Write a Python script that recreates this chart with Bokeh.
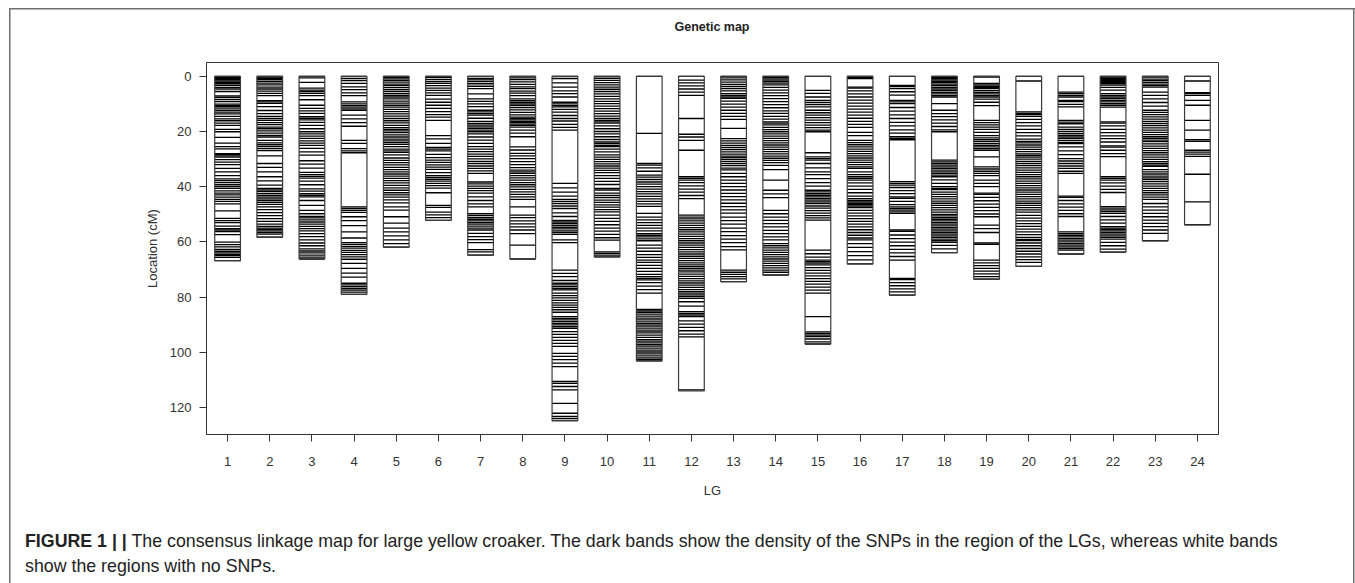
from bokeh.plotting import figure
from bokeh.models import Range1d, FixedTicker, ColumnDataSource, Div
from bokeh.layouts import column
from bokeh.embed import file_html
from bokeh.resources import INLINE

# ---------------- data ----------------
lg_ids = list(range(1, 25))
lg_lengths = [66.8, 58.3, 66.2, 79.0, 61.9, 52.2, 64.8, 66.2, 124.8, 65.4, 103.1, 114.0,
              74.4, 72.0, 97.0, 68.0, 79.3, 63.9, 73.5, 68.9, 64.4, 63.7, 59.6, 53.8]
y_ticks = [0, 20, 40, 60, 80, 100, 120]

lg01 = [0, 0.4, 0.8, 1.2, 1.7, 2.2, 2.7, 3.3, 4.0, 4.6, 5.5, 7.1, 7.6, 8.4, 9.2, 10.1, 10.6, 11.0, 11.5,
        12.3, 13.0, 13.6, 14.5, 15.4, 16.1, 17.0, 17.8, 19.2, 20.1, 22.1, 24.2, 25.5, 26.3, 28.0, 28.4,
        28.8, 29.3, 30.2, 31.1, 32.0, 33.4, 34.6, 36.0, 37.2, 37.8, 38.5, 39.3, 40.0, 40.6, 41.5, 42.3,
        43.0, 43.8, 44.6, 45.3, 46.2, 48.8, 51.5, 52.3, 53.0, 54.3, 55.2, 55.7, 56.3, 57.4, 60.1, 61.0,
        61.8, 62.7, 63.4, 64.0, 64.5, 65.0, 65.6, 66.8]
lg02 = [0, 0.3, 0.7, 1.1, 1.8, 2.5, 3.1, 3.9, 4.6, 5.4, 6.2, 7.0, 8.8, 9.3, 9.8, 11.0, 12.4, 13.5, 14.5,
        15.3, 16.0, 16.8, 17.5, 18.4, 19.0, 19.8, 20.6, 21.4, 22.0, 23.2, 24.1, 24.8, 25.5, 26.2, 26.9,
        28.8, 31.6, 33.0, 34.6, 36.4, 37.9, 39.4, 40.6, 41.2, 41.8, 42.5, 43.2, 43.8, 44.4, 45.0, 45.7,
        46.4, 47.3, 48.3, 49.4, 50.5, 51.6, 52.6, 53.6, 54.4, 55.0, 55.5, 56.0, 56.6, 57.2, 58.3]
lg03 = [0, 0.6, 2.2, 4.3, 5.0, 5.5, 6.2, 7.0, 8.5, 10.5, 11.6, 12.5, 13.4, 14.6, 15.2, 15.8, 16.7, 17.8,
        19.0, 20.1, 20.9, 21.7, 22.5, 23.4, 24.2, 25.0, 26.1, 27.4, 28.6, 30.6, 31.8, 33.3, 34.8, 35.6,
        36.3, 36.9, 38.0, 39.3, 40.8, 41.6, 42.5, 43.1, 43.7, 45.0, 46.8, 48.6, 49.8, 50.8, 51.3, 52.0,
        52.8, 53.6, 54.4, 55.2, 56.0, 57.0, 58.1, 59.3, 60.4, 61.4, 62.5, 63.3, 64.0, 64.8, 65.5, 66.2]
lg04 = [0, 0.8, 1.6, 2.6, 3.8, 4.8, 6.0, 7.0, 9.3, 10.0, 10.6, 11.2, 11.8, 12.3, 14.1, 15.4, 16.8, 18.1,
        23.2, 24.3, 26.2, 27.0, 27.7, 47.3, 47.9, 48.6, 49.3, 50.9, 52.3, 54.1, 56.4, 58.6, 60.3, 60.9,
        61.6, 62.3, 63.1, 63.8, 64.6, 65.4, 66.3, 67.8, 69.6, 71.3, 72.8, 75.0, 75.6, 76.2, 76.9, 77.5,
        78.2, 79.0]
lg05 = [0, 0.4, 0.9, 1.5, 2.1, 2.8, 3.4, 4.1, 4.8, 5.5, 6.3, 6.9, 7.5, 8.2, 9.0, 9.7, 10.5, 11.2, 12.0,
        12.8, 13.6, 14.4, 15.3, 16.1, 16.9, 17.8, 18.6, 19.2, 19.8, 20.4, 21.2, 22.0, 22.8, 23.4, 24.0,
        24.7, 25.5, 26.4, 27.0, 27.6, 28.5, 29.6, 30.5, 31.3, 32.1, 33.0, 33.8, 34.6, 35.4, 36.2, 37.0,
        37.8, 38.6, 39.5, 40.4, 41.3, 42.2, 43.0, 43.8, 44.8, 45.9, 47.3, 48.5, 50.9, 53.2, 55.0, 56.4,
        57.8, 59.3, 60.6, 61.9]
lg06 = [0, 0.5, 1.2, 1.9, 2.6, 3.4, 4.3, 5.1, 6.0, 6.9, 8.3, 9.4, 10.5, 11.6, 12.8, 13.9, 14.8, 16.0,
        21.5, 22.7, 24.3, 25.8, 26.4, 27.0, 28.3, 29.5, 30.4, 31.2, 32.1, 32.9, 33.7, 34.9, 36.0, 36.6,
        37.3, 38.0, 38.8, 39.6, 40.5, 42.2, 46.8, 47.5, 49.2, 50.2, 51.2, 52.2]
lg07 = [0, 0.8, 1.3, 1.9, 2.7, 3.6, 4.5, 6.4, 8.2, 9.1, 10.0, 11.0, 12.3, 12.9, 13.5, 14.1, 15.2, 16.3,
        17.1, 17.7, 18.3, 18.9, 19.5, 20.1, 20.9, 22.0, 23.1, 24.3, 25.5, 26.4, 27.3, 28.2, 29.0, 29.9,
        30.8, 31.6, 32.5, 33.4, 34.3, 35.2, 38.3, 39.0, 39.8, 40.6, 41.4, 42.3, 43.7, 45.0, 46.2, 47.3,
        49.8, 50.5, 51.2, 51.8, 52.4, 53.0, 53.6, 54.3, 55.0, 55.7, 56.9, 58.1, 59.2, 60.3, 62.8, 63.6, 64.8]
lg08 = [0, 0.6, 1.2, 2.0, 2.9, 3.8, 4.5, 5.4, 6.1, 7.0, 8.2, 8.8, 9.4, 10.0, 10.5, 11.3, 12.2, 13.1,
        14.0, 14.8, 15.3, 15.8, 16.3, 16.8, 17.3, 17.8, 18.4, 19.5, 20.6, 21.9, 25.6, 26.7, 27.9, 28.8,
        29.8, 30.9, 32.0, 33.1, 34.0, 34.6, 35.2, 36.0, 36.8, 37.6, 38.5, 39.3, 40.1, 41.0, 41.9, 42.8,
        43.7, 44.6, 47.3, 50.3, 51.2, 52.4, 53.5, 54.6, 55.7, 57.0, 61.2, 66.2]
lg09 = [0, 0.8, 2.4, 3.9, 5.3, 6.3, 7.5, 9.4, 10.0, 10.6, 11.1, 12.0, 13.0, 14.2, 15.3, 16.2, 17.4,
        18.5, 19.5, 38.8, 40.4, 42.0, 43.4, 44.6, 45.3, 46.1, 47.0, 47.9, 49.5, 50.8, 52.2, 52.8, 53.4,
        54.0, 54.7, 55.3, 56.0, 56.6, 57.3, 59.3, 60.3, 70.2, 71.4, 72.6, 74.0, 75.0, 75.6, 76.2, 76.9,
        77.4, 78.6, 79.5, 80.3, 81.2, 82.1, 82.9, 83.7, 84.6, 85.5, 87.1, 87.7, 88.3, 88.9, 89.5, 90.1,
        90.7, 91.3, 92.5, 93.5, 94.6, 95.7, 96.8, 97.9, 100.4, 101.5, 102.7, 103.9, 105.2, 110.6, 111.3,
        112.4, 113.6, 118.5, 122.1, 123.2, 124.0, 124.8]
lg10 = [0, 0.7, 1.5, 2.3, 3.1, 3.9, 4.7, 5.5, 6.4, 7.3, 8.2, 9.1, 9.9, 10.8, 11.7, 12.6, 13.5, 14.4,
        15.3, 16.0, 16.5, 17.0, 18.0, 19.0, 20.0, 20.9, 21.9, 22.9, 23.8, 24.4, 25.0, 25.5, 26.4, 27.4,
        28.5, 29.3, 30.1, 30.9, 31.7, 32.5, 33.3, 34.1, 34.9, 36.0, 37.0, 38.1, 39.2, 40.6, 41.2, 42.3,
        43.2, 44.0, 44.9, 45.7, 46.6, 47.4, 48.3, 49.1, 50.3, 51.5, 52.6, 53.8, 55.0, 56.1, 57.3, 58.5,
        59.4, 63.6, 64.2, 64.8, 65.4]
lg11 = [0, 20.7, 31.6, 32.2, 33.2, 34.4, 35.8, 36.5, 37.4, 38.3, 39.1, 40.0, 40.9, 41.8, 42.6, 43.5,
        44.4, 45.3, 46.2, 47.1, 49.7, 51.0, 52.0, 53.0, 54.0, 55.0, 56.0, 57.0, 57.6, 58.2, 58.9, 59.6,
        61.2, 62.3, 63.4, 64.6, 65.6, 66.6, 67.4, 68.5, 69.6, 70.7, 71.8, 72.6, 73.2, 73.8, 74.8, 76.0,
        77.3, 78.6, 84.5, 85.0, 85.5, 86.2, 86.9, 87.6, 88.3, 89.0, 89.6, 90.2, 90.8, 91.5, 92.3, 93.0,
        93.8, 94.6, 95.4, 96.0, 96.6, 97.2, 97.8, 98.5, 99.2, 99.9, 100.6, 101.3, 102.0, 102.6, 103.1]
lg12 = [0, 1.4, 2.4, 3.5, 4.6, 5.7, 6.9, 15.3, 21.0, 22.0, 23.2, 26.8, 36.4, 37.0, 37.6, 38.5, 39.7,
        40.9, 42.0, 43.2, 44.3, 50.3, 51.0, 51.7, 52.4, 53.2, 54.0, 54.8, 55.6, 56.4, 57.2, 58.0, 58.8,
        59.6, 60.4, 61.2, 62.0, 62.8, 63.6, 64.4, 65.2, 66.0, 66.8, 67.6, 68.3, 69.0, 69.6, 70.2, 70.9,
        71.7, 72.5, 73.3, 74.1, 74.9, 75.7, 76.5, 77.3, 78.0, 78.6, 79.2, 79.8, 80.5, 81.7, 83.3, 85.3,
        85.9, 86.5, 87.1, 88.6, 89.8, 91.0, 92.2, 93.4, 94.4, 113.6]
lg13 = [0, 0.6, 1.3, 2.1, 2.9, 3.7, 4.5, 5.3, 6.3, 6.9, 7.5, 8.0, 9.0, 10.1, 11.2, 12.3, 13.4, 14.5,
        15.6, 18.9, 22.6, 23.4, 24.2, 25.0, 25.8, 26.6, 27.4, 28.2, 28.9, 29.5, 30.1, 30.8, 31.6, 32.4,
        33.3, 33.9, 35.2, 36.4, 37.6, 38.8, 40.0, 41.2, 42.4, 43.6, 44.8, 46.0, 47.2, 48.4, 49.6, 51.0,
        52.3, 53.6, 55.0, 56.3, 57.7, 59.0, 60.3, 61.7, 62.9, 70.2, 71.0, 71.8, 72.6, 73.4, 74.4]
lg14 = [0, 0.4, 0.9, 1.4, 1.9, 2.5, 3.1, 4.0, 5.0, 6.0, 7.0, 8.1, 9.2, 10.3, 11.4, 12.5, 13.4, 14.5,
        15.5, 16.5, 17.0, 17.6, 18.5, 19.3, 20.1, 20.9, 21.7, 22.5, 23.3, 24.1, 24.9, 25.7, 26.5, 27.3,
        28.1, 28.9, 29.7, 30.5, 31.3, 32.3, 33.8, 37.6, 41.3, 42.6, 44.0, 48.6, 49.8, 51.0, 52.2, 53.4,
        54.6, 55.8, 57.0, 58.2, 59.3, 60.6, 61.4, 62.2, 63.0, 63.8, 64.6, 65.4, 66.2, 67.0, 67.8, 68.6,
        69.4, 70.2, 71.0, 72.0]
lg15 = [0, 5.1, 6.2, 7.5, 8.7, 9.5, 10.3, 11.1, 12.3, 13.2, 14.1, 15.0, 15.9, 16.8, 17.7, 18.6, 19.5,
        20.1, 27.7, 29.2, 29.8, 30.4, 31.6, 33.2, 34.6, 35.6, 37.1, 38.5, 39.8, 41.3, 41.9, 42.5, 43.1,
        43.7, 44.3, 44.9, 45.5, 46.1, 47.0, 47.8, 48.7, 49.6, 50.5, 51.3, 52.1, 63.0, 64.3, 65.5, 66.6,
        67.2, 67.7, 68.3, 69.3, 70.3, 71.3, 72.3, 73.3, 74.3, 75.3, 76.4, 77.5, 78.6, 87.1, 92.6, 93.2,
        93.8, 94.3, 95.2, 96.2, 97.0]
lg16 = [0, 0.4, 0.8, 3.9, 4.3, 5.3, 6.4, 7.5, 8.6, 9.7, 10.8, 11.9, 13.0, 14.1, 15.2, 16.3, 17.4, 18.5,
        20.3, 21.5, 23.2, 24.0, 24.8, 25.6, 26.4, 27.2, 28.0, 28.8, 29.6, 30.4, 31.2, 32.0, 32.8, 33.4,
        34.6, 35.6, 36.4, 37.0, 37.6, 38.6, 39.8, 41.0, 42.2, 43.4, 44.3, 45.0, 45.5, 46.0, 46.5, 47.0,
        47.6, 48.6, 49.6, 50.6, 51.6, 52.6, 53.6, 54.6, 55.6, 56.6, 57.6, 58.6, 59.3, 60.6, 62.0, 63.5,
        65.0, 66.5, 68.0]
lg17 = [0, 3.3, 3.7, 4.5, 5.6, 6.8, 8.7, 9.3, 9.9, 11.3, 12.6, 14.0, 15.3, 16.7, 18.0, 19.4, 20.6, 21.9,
        22.5, 23.0, 38.2, 38.8, 39.4, 40.3, 41.4, 42.5, 43.7, 44.2, 45.3, 46.5, 47.3, 47.9, 48.5, 49.1,
        49.7, 55.7, 56.2, 57.5, 58.8, 60.1, 61.4, 62.7, 64.0, 65.3, 66.6, 73.2, 73.7, 74.8, 75.9, 77.0,
        78.1, 79.3]
lg18 = [0, 0.4, 0.8, 1.3, 1.8, 2.3, 2.8, 3.4, 4.0, 4.6, 5.2, 5.8, 6.4, 7.0, 7.5, 9.9, 12.3, 13.5, 14.6,
        15.8, 17.0, 18.2, 19.4, 20.1, 30.4, 31.0, 31.6, 32.2, 32.8, 33.4, 34.0, 34.6, 35.2, 35.8, 36.4,
        37.5, 38.8, 40.0, 40.6, 41.1, 42.0, 42.8, 43.6, 44.4, 45.2, 46.0, 46.8, 47.6, 48.4, 49.2, 50.0,
        50.6, 51.2, 51.8, 52.4, 53.0, 53.6, 54.2, 54.8, 55.4, 56.0, 56.6, 57.2, 57.8, 58.4, 59.0, 59.6,
        60.2, 61.3, 62.5, 63.9]
lg19 = [0, 0.3, 2.6, 3.1, 3.6, 4.1, 4.5, 5.2, 5.8, 6.4, 7.0, 7.5, 8.3, 9.4, 10.6, 16.0, 16.8, 17.6,
        18.4, 19.2, 20.3, 21.5, 22.3, 23.0, 23.7, 24.4, 25.0, 25.6, 26.2, 26.8, 29.2, 32.8, 33.6, 34.4,
        35.2, 36.0, 37.6, 38.8, 40.0, 42.3, 42.8, 43.9, 45.1, 46.3, 47.5, 48.7, 49.9, 50.9, 53.9, 55.2,
        56.6, 60.4, 60.9, 66.6, 67.6, 68.6, 69.6, 70.6, 71.6, 72.6, 73.5]
lg20 = [0, 1.7, 12.9, 13.4, 13.9, 14.5, 15.6, 16.8, 18.0, 19.2, 20.4, 21.6, 22.8, 23.6, 24.1, 24.9,
        25.7, 26.5, 27.3, 28.1, 28.7, 29.3, 30.0, 30.8, 31.6, 32.4, 33.2, 34.0, 34.8, 35.6, 36.4, 37.2,
        38.0, 38.8, 39.6, 40.4, 41.2, 42.0, 42.8, 43.6, 44.4, 45.2, 46.0, 46.8, 47.6, 48.4, 49.2, 50.4,
        51.4, 52.4, 53.4, 54.4, 55.4, 56.4, 57.4, 58.4, 59.1, 59.5, 60.4, 61.4, 62.4, 63.4, 64.4, 65.4,
        66.4, 67.4, 68.9]
lg21 = [0, 5.7, 6.3, 6.9, 7.5, 8.7, 9.2, 10.2, 11.1, 16.0, 16.6, 17.2, 18.4, 19.2, 20.0, 20.8, 21.4,
        22.0, 22.6, 23.3, 24.0, 24.4, 25.6, 27.0, 28.4, 29.8, 30.7, 31.6, 32.5, 33.4, 34.4, 35.2, 43.4,
        43.9, 45.0, 46.2, 47.4, 48.6, 49.8, 50.8, 56.4, 57.0, 57.6, 58.2, 58.8, 59.4, 60.0, 60.6, 61.2,
        61.8, 62.4, 63.0, 64.4]
lg22 = [0, 0.3, 0.7, 1.1, 1.5, 1.9, 2.3, 2.7, 3.2, 4.0, 5.0, 6.3, 6.9, 7.5, 8.1, 8.7, 9.3, 9.9, 10.5,
        11.2, 16.5, 17.0, 18.0, 19.2, 20.4, 21.6, 22.6, 23.8, 25.2, 25.7, 26.8, 28.0, 29.1, 36.4, 37.0,
        37.6, 38.6, 39.8, 41.0, 42.1, 47.2, 47.8, 48.4, 49.0, 49.7, 50.8, 52.0, 53.2, 54.5, 55.0, 55.5,
        56.0, 56.6, 57.2, 57.8, 58.4, 59.0, 60.2, 61.4, 62.6, 63.7]
lg23 = [0, 0.3, 1.0, 1.6, 2.2, 2.8, 3.4, 3.9, 5.7, 6.9, 8.2, 9.5, 10.8, 12.3, 13.1, 13.9, 14.7, 15.5,
        16.3, 17.1, 17.9, 18.7, 19.5, 20.3, 21.1, 21.9, 22.5, 23.1, 23.7, 24.5, 25.3, 26.1, 26.9, 27.7,
        28.5, 29.3, 30.1, 30.9, 31.6, 32.2, 32.6, 33.8, 34.6, 35.4, 36.2, 36.8, 37.4, 38.2, 39.0, 39.8,
        40.6, 41.4, 42.2, 43.0, 43.8, 44.6, 46.1, 47.3, 48.5, 49.7, 50.9, 52.1, 53.3, 54.5, 55.7, 56.9,
        59.6]
lg24 = [0, 1.7, 5.9, 6.3, 6.9, 8.7, 10.5, 16.0, 19.5, 23.0, 23.6, 26.8, 27.5, 28.2, 29.0, 35.5, 45.5,
        53.8]

markers = [lg01, lg02, lg03, lg04, lg05, lg06, lg07, lg08, lg09, lg10, lg11, lg12,
           lg13, lg14, lg15, lg16, lg17, lg18, lg19, lg20, lg21, lg22, lg23, lg24]

title_text = "Genetic map"
caption_bold = "FIGURE 1 | |"
caption_line1 = ("The consensus linkage map for large yellow croaker. The dark bands show the density "
                 "of the SNPs in the region of the LGs, whereas white bands")
caption_line2 = "show the regions with no SNPs."

# ---------------- sources ----------------
half = 0.305
bars = ColumnDataSource(dict(
    left=[i - half for i in lg_ids], right=[i + half for i in lg_ids],
    top=[0.0] * len(lg_ids), bottom=lg_lengths))

sx0, sx1, sy = [], [], []
for i, pos in zip(lg_ids, markers):
    for v in pos:
        sx0.append(i - half)
        sx1.append(i + half)
        sy.append(v)
segs = ColumnDataSource(dict(x0=sx0, x1=sx1, y=sy))

FONT = "Liberation Sans"
TITLE_H = 40

p = figure(width=1355, height=520 - TITLE_H, output_backend="svg", toolbar_location=None,
           x_range=Range1d(0.5, 24.5), y_range=Range1d(129.8, -5.0),
           min_border_left=206, min_border_right=137, min_border_top=62 - TITLE_H,
           min_border_bottom=86, x_axis_label="LG", y_axis_label="Location (cM)",
           title=None, margin=(0, 0, 0, 0))
p.background_fill_color = "white"
p.border_fill_color = None
p.grid.visible = False
p.outline_line_color = "#333333"
p.outline_line_width = 1

p.quad(left="left", right="right", top="top", bottom="bottom", source=bars,
       fill_color="white", line_color=None)
p.segment(x0="x0", y0="y", x1="x1", y1="y", source=segs, line_color="black", line_width=1.3)
p.quad(left="left", right="right", top="top", bottom="bottom", source=bars,
       fill_color=None, line_color="#3a3a3a", line_width=1.2)

for ax in (p.xaxis[0], p.yaxis[0]):
    ax.axis_line_color = "#333333"
    ax.major_tick_line_color = "#333333"
    ax.minor_tick_line_color = None
    ax.major_tick_out = 7
    ax.major_tick_in = 0
    ax.major_label_text_font = FONT
    ax.major_label_text_font_size = "13px"
    ax.major_label_text_color = "#333333"
    ax.axis_label_text_font = FONT
    ax.axis_label_text_font_size = "13px"
    ax.axis_label_text_font_style = "normal"
    ax.axis_label_text_color = "#333333"

p.xaxis.ticker = FixedTicker(ticks=lg_ids)
p.yaxis.ticker = FixedTicker(ticks=y_ticks)
p.xaxis.major_label_standoff = 15
p.yaxis.major_label_standoff = 8
p.xaxis.axis_label_standoff = 14
p.yaxis.axis_label_standoff = 7

title_html = (
    '<div style="margin-left:206px; width:1012px; padding-top:20px; text-align:center; '
    'font-family:\'Liberation Sans\', Arial, sans-serif; font-size:12.5px; font-weight:bold; '
    f'line-height:15px; color:#222; white-space:nowrap;">{title_text}</div>'
)
title_div = Div(text=title_html, width=1355, height=TITLE_H, margin=(0, 0, 0, 0))

cap_html = (
    '<div style="padding:9px 0 0 25px; font-family:\'Liberation Sans\', Arial, sans-serif; '
    'font-size:17.8px; line-height:25px; color:#222; white-space:nowrap;">'
    f'<b>{caption_bold}</b> {caption_line1}<br>{caption_line2}</div>'
)
cap = Div(text=cap_html, width=1355, height=63, margin=(0, 0, 0, 0))

line = "linear-gradient(#6e6e6e, #6e6e6e)"
layout = column(title_div, p, cap, spacing=0, margin=(0, 0, 0, 0), styles={
    "background-image": f"{line}, {line}, {line}",
    "background-size": "1346px 1.5px, 1.5px 700px, 1.5px 700px",
    "background-position": "9px 8px, 9px 8px, 1353px 8px",
    "background-repeat": "no-repeat",
})

open("out.html", "w").write(file_html(layout, INLINE))
